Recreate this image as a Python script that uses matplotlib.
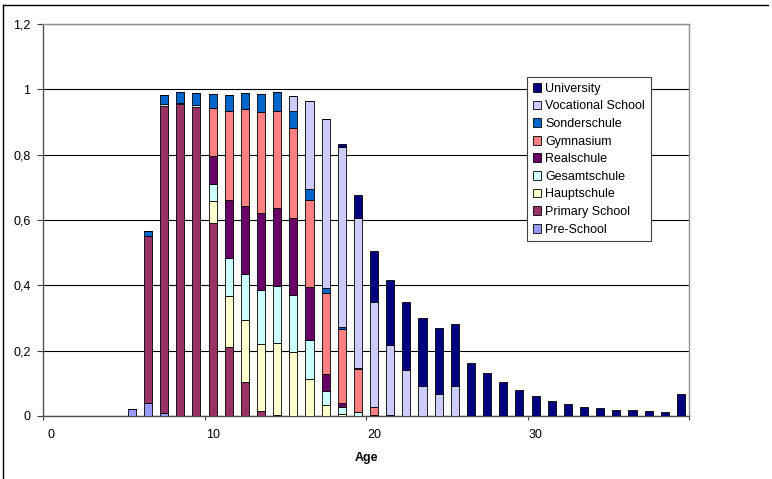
import numpy as np
import matplotlib
matplotlib.use("Agg")
import matplotlib.pyplot as plt
from matplotlib.lines import Line2D
from matplotlib.patches import Patch

plt.rcParams['font.family'] = ['Liberation Sans', 'DejaVu Sans']

ages = list(range(40))

def series(d):
    v = [0.0] * 40
    for k, val in d.items():
        v[k] = val
    return v

pre_school = series({5: 0.02, 6: 0.039, 7: 0.01})
primary = series({6: 0.513, 7: 0.94, 8: 0.954, 9: 0.947, 10: 0.592, 11: 0.21,
                  12: 0.105, 13: 0.015, 14: 0.002})
hauptschule = series({10: 0.067, 11: 0.157, 12: 0.188, 13: 0.204, 14: 0.22,
                      15: 0.197, 16: 0.113, 17: 0.034, 18: 0.005})
gesamtschule = series({7: 0.004, 8: 0.005, 9: 0.004, 10: 0.05, 11: 0.118,
                       12: 0.141, 13: 0.166, 14: 0.175, 15: 0.172, 16: 0.121,
                       17: 0.044, 18: 0.024, 19: 0.013})
realschule = series({10: 0.086, 11: 0.176, 12: 0.209, 13: 0.235, 14: 0.239,
                     15: 0.236, 16: 0.162, 17: 0.051, 18: 0.01, 20: 0.004})
gymnasium = series({10: 0.147, 11: 0.272, 12: 0.296, 13: 0.312, 14: 0.298,
                    15: 0.278, 16: 0.265, 17: 0.247, 18: 0.226, 19: 0.131,
                    20: 0.025, 21: 0.004})
sonderschule = series({6: 0.014, 7: 0.029, 8: 0.033, 9: 0.039, 10: 0.044,
                       11: 0.049, 12: 0.051, 13: 0.054, 14: 0.057, 15: 0.051,
                       16: 0.034, 17: 0.015, 18: 0.008, 19: 0.004})
vocational = series({15: 0.046, 16: 0.269, 17: 0.517, 18: 0.551, 19: 0.458,
                     20: 0.321, 21: 0.213, 22: 0.141, 23: 0.092, 24: 0.066,
                     25: 0.093})
university = series({18: 0.008, 19: 0.069, 20: 0.156, 21: 0.199, 22: 0.209,
                     23: 0.209, 24: 0.202, 25: 0.188, 26: 0.162, 27: 0.131,
                     28: 0.103, 29: 0.079, 30: 0.06, 31: 0.046, 32: 0.036,
                     33: 0.029, 34: 0.023, 35: 0.019, 36: 0.017, 37: 0.015,
                     38: 0.011, 39: 0.066})

names = ["Pre-School", "Primary School", "Hauptschule", "Gesamtschule",
         "Realschule", "Gymnasium", "Sonderschule", "Vocational School",
         "University"]
values = [pre_school, primary, hauptschule, gesamtschule, realschule,
          gymnasium, sonderschule, vocational, university]
colors = ["#9999FF", "#993366", "#FFFFCC", "#CCFFFF", "#660066",
          "#FF8080", "#0066CC", "#CCCCFF", "#000080"]

yticks = [0, 0.2, 0.4, 0.6, 0.8, 1.0, 1.2]
ytick_labels = ["0", "0,2", "0,4", "0,6", "0,8", "1", "1,2"]
xtick_pos = [0, 10, 20, 30]
xtick_labels = ["0", "10", "20", "30"]

W, H = 772, 479
fig = plt.figure(figsize=(W / 100, H / 100), dpi=100)
ax = fig.add_axes([43 / W, 1 - 416 / H, (689 - 43) / W, (416 - 24) / H])

x = np.array(ages)
bottom = np.zeros(40)
for name, vals, c in zip(names, values, colors):
    v = np.array(vals)
    ax.bar(x, v, width=0.5, bottom=bottom, color=c, edgecolor="black",
           linewidth=0.6, label=name, zorder=3)
    bottom += v

ax.set_xlim(-0.5, 39.5)
ax.set_ylim(0, 1.2)
ax.set_yticks(yticks)
ax.set_yticklabels(ytick_labels, fontsize=9)
ax.yaxis.grid(True, color="black", linewidth=0.8, zorder=0)
ax.tick_params(axis="y", length=4, width=0.8, color="#404040", pad=5)

ax.set_xticks([-0.5, 9.5, 19.5, 29.5, 39.5])
ax.set_xticklabels([])
ax.tick_params(axis="x", which="major", length=3, width=0.8, color="#404040")
ax.set_xticks(xtick_pos, minor=True)
ax.set_xticklabels(xtick_labels, minor=True, fontsize=9)
ax.tick_params(axis="x", which="minor", length=0, pad=9.5)
ax.set_xlabel("Age", fontsize=9, fontweight="bold", labelpad=8)

for side in ["top", "right"]:
    ax.spines[side].set_color("#909090")
    ax.spines[side].set_linewidth(1.0)
for side in ["left", "bottom"]:
    ax.spines[side].set_color("#505050")
    ax.spines[side].set_linewidth(1.0)

handles = [Patch(facecolor=c, edgecolor="black", linewidth=0.6)
           for c in colors][::-1]
leg = fig.legend(handles, names[::-1], loc="upper left",
                 bbox_to_anchor=(527 / W, 1 - 77 / H), fontsize=9,
                 frameon=True, fancybox=False, framealpha=1,
                 edgecolor="#404040", handlelength=0.7, handleheight=0.7,
                 handletextpad=0.3, labelspacing=0.45, borderpad=0.45,
                 borderaxespad=0)
leg.get_frame().set_linewidth(0.8)

# outer chart frame
fig.add_artist(Line2D([3 / W, 768 / W], [1 - 5 / H, 1 - 5 / H],
                      transform=fig.transFigure, color="black", linewidth=1))
fig.add_artist(Line2D([3 / W, 3 / W], [1 - 5 / H, 0],
                      transform=fig.transFigure, color="black", linewidth=1))

fig.savefig("out.png", dpi=100)
